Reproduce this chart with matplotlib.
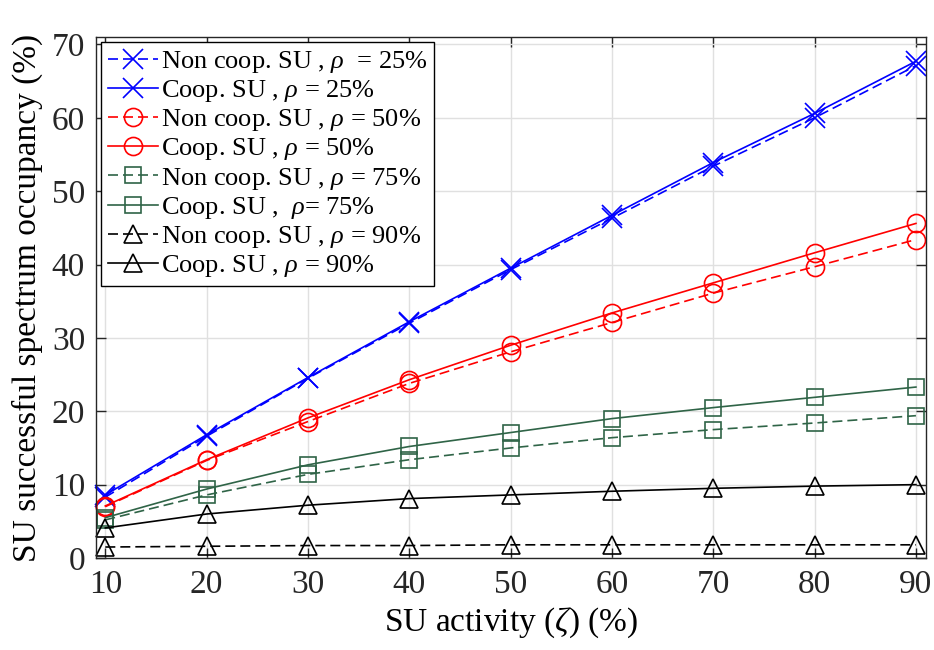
import numpy as np
import matplotlib
matplotlib.use("Agg")
import matplotlib.pyplot as plt

plt.rcParams['font.family'] = ['Liberation Serif', 'DejaVu Serif']
plt.rcParams['mathtext.fontset'] = 'custom'
plt.rcParams['mathtext.rm'] = 'Liberation Serif'
plt.rcParams['mathtext.it'] = 'Liberation Serif:italic'

# SU activity (%)
activity = [10, 20, 30, 40, 50, 60, 70, 80, 90]

# successful spectrum occupancy (%) for each PU load rho
noncoop_25 = [8.3, 16.6, 24.5, 32.0, 39.3, 46.3, 53.4, 60.0, 67.1]
coop_25 = [8.6, 16.8, 24.6, 32.2, 39.5, 46.7, 53.9, 60.6, 67.7]
noncoop_50 = [7.0, 13.3, 18.6, 23.8, 28.1, 32.1, 36.1, 39.7, 43.4]
coop_50 = [7.1, 13.4, 19.1, 24.3, 29.0, 33.4, 37.5, 41.6, 45.6]
noncoop_75 = [5.2, 8.6, 11.4, 13.4, 15.0, 16.4, 17.5, 18.4, 19.4]
coop_75 = [5.5, 9.4, 12.7, 15.2, 17.1, 19.0, 20.5, 21.9, 23.3]
noncoop_90 = [1.5, 1.6, 1.7, 1.7, 1.8, 1.8, 1.8, 1.8, 1.8]
coop_90 = [4.1, 6.0, 7.2, 8.1, 8.6, 9.1, 9.5, 9.8, 10.0]

green = '#2f6447'
dash = (6, 3)

fig = plt.figure(figsize=(9.34, 6.5), dpi=100)
ax = fig.add_axes([0.103, 0.1415, 0.8885, 0.8015])

ax.plot(activity, noncoop_25, '--x', color='blue', lw=1.2, ms=14, mew=1.2, dashes=dash,
        label=r'Non coop. SU , $\rho$  = 25%', clip_on=False)
ax.plot(activity, coop_25, '-x', color='blue', lw=1.2, ms=14, mew=1.2,
        label=r'Coop. SU , $\rho$ = 25%', clip_on=False)
ax.plot(activity, noncoop_50, '--o', color='red', lw=1.2, ms=13, mew=1.2, mfc='none', dashes=dash,
        label=r'Non coop. SU , $\rho$ = 50%', clip_on=False)
ax.plot(activity, coop_50, '-o', color='red', lw=1.2, ms=13, mew=1.2, mfc='none',
        label=r'Coop. SU , $\rho$ = 50%', clip_on=False)
ax.plot(activity, noncoop_75, '--s', color=green, lw=1.2, ms=11, mew=1.2, mfc='none', dashes=dash,
        label=r'Non coop. SU , $\rho$ = 75%', clip_on=False)
ax.plot(activity, coop_75, '-s', color=green, lw=1.2, ms=11, mew=1.2, mfc='none',
        label=r'Coop. SU ,  $\rho$= 75%', clip_on=False)
ax.plot(activity, noncoop_90, '--^', color='black', lw=1.2, ms=13, mew=1.2, mfc='none', dashes=dash,
        label=r'Non coop. SU , $\rho$ = 90%', clip_on=False)
ax.plot(activity, coop_90, '-^', color='black', lw=1.2, ms=13, mew=1.2, mfc='none',
        label=r'Coop. SU , $\rho$ = 90%', clip_on=False)

ax.set_xlim(9.1, 91)
ax.set_ylim(0, 71)
ax.set_xticks(activity)
ax.set_yticks(np.arange(0, 71, 10))
ax.grid(True, color='#e0e0e0', lw=1.0)
ax.set_axisbelow(True)
ax.tick_params(direction='in', length=7, width=1.0, top=True, right=True,
               labelsize=24, colors='#262626', pad=8)
for sp in ax.spines.values():
    sp.set_color('#262626')
    sp.set_linewidth(1.0)

ax.set_xlabel(r'SU activity ($\zeta$) (%)', fontsize=24, labelpad=4)
ax.set_ylabel('SU successful spectrum occupancy (%)', fontsize=24, labelpad=6)

leg = ax.legend(loc='upper left', fontsize=19, handlelength=1.9, handletextpad=0.1,
                labelspacing=0.12, borderpad=0.25, borderaxespad=0.2,
                fancybox=False, framealpha=1, edgecolor='black')
leg.get_frame().set_linewidth(1.0)

fig.savefig('out.png', dpi=100)
